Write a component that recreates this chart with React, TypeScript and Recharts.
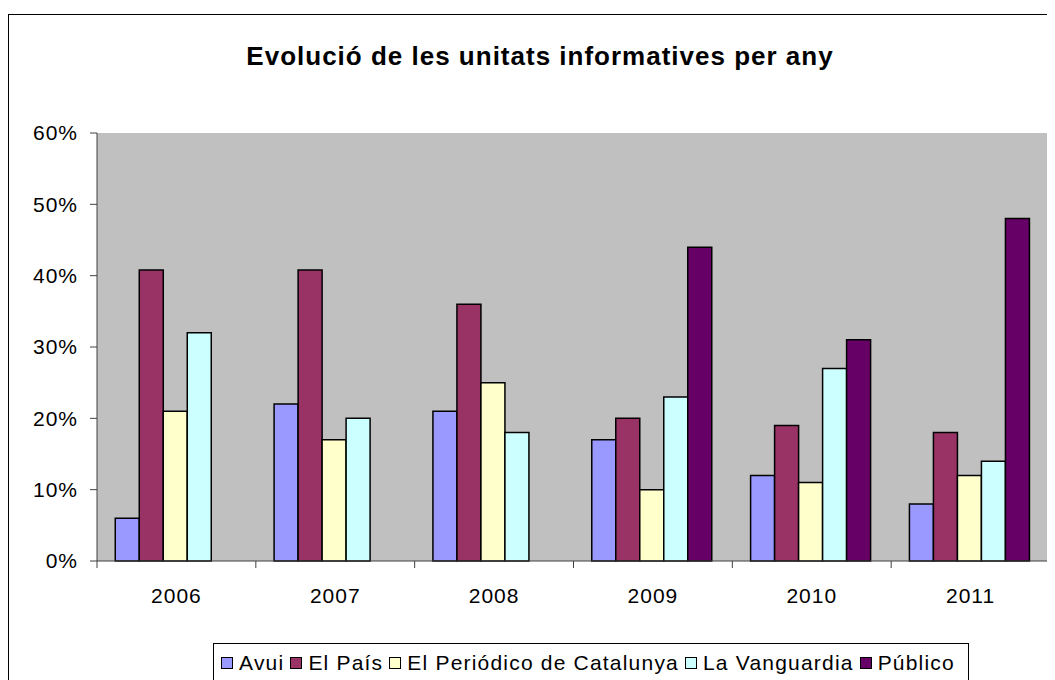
import { BarChart, Bar, XAxis, YAxis, CartesianGrid, Legend } from "recharts";

const years = ["2006", "2007", "2008", "2009", "2010", "2011"];
const avui = [6, 22, 21, 17, 12, 8];
const elPais = [40.8, 40.8, 36, 20, 19, 18];
const elPeriodico = [21, 17, 25, 10, 11, 12];
const laVanguardia = [32, 20, 18, 23, 27, 14];
const publico = [null, null, null, 44, 31, 48];
const yTicks = [0, 10, 20, 30, 40, 50, 60];

const series = [
  { key: "avui", name: "Avui", color: "#9999FF", values: avui },
  { key: "elPais", name: "El País", color: "#993366", values: elPais },
  { key: "elPeriodico", name: "El Periódico de Catalunya", color: "#FFFFCC", values: elPeriodico },
  { key: "laVanguardia", name: "La Vanguardia", color: "#CCFFFF", values: laVanguardia },
  { key: "publico", name: "Público", color: "#660066", values: publico },
];

const data = years.map((year, i) => {
  const row: Record<string, string | number | null> = { year };
  series.forEach((s) => (row[s.key] = s.values[i]));
  return row;
});

const FONT = "Arial, 'Liberation Sans', sans-serif";

// category ticks sit between groups, like the spreadsheet original
function YearTick(props: any) {
  const { x, y, payload, index, width, visibleTicksCount } = props;
  const band = width / visibleTicksCount;
  const left = x - band / 2;
  return (
    <g>
      <line x1={left} y1={y - 8} x2={left} y2={y - 1} stroke="#404040" />
      {index === visibleTicksCount - 1 && <line x1={left + band} y1={y - 8} x2={left + band} y2={y - 1} stroke="#404040" />}
      <text x={x} y={y + 34} textAnchor="middle" fontSize={21} letterSpacing={1} fontFamily={FONT} fill="#000">
        {payload.value}
      </text>
    </g>
  );
}

function LegendBox() {
  return (
    <div style={{ display: "flex", alignItems: "center", justifyContent: "center", height: "100%", fontFamily: FONT, fontSize: 21, letterSpacing: 1.2 }}>
      {series.map((s) => (
        <span key={s.key} style={{ display: "inline-flex", alignItems: "center", marginRight: 6 }}>
          <span style={{ width: 10, height: 10, background: s.color, border: "1px solid #000", marginRight: 6 }} />
          {s.name}
        </span>
      ))}
    </div>
  );
}

export default function App() {
  return (
    <div style={{ position: "relative", width: 1047, height: 672, overflow: "hidden", background: "#fff" }}>
      <div style={{ position: "absolute", left: 0, top: 6, width: 1100, height: 720, borderTop: "1.5px solid #000", borderLeft: "1.5px solid #000" }} />
      <div style={{ position: "absolute", left: 0, top: 33, width: 1064, textAlign: "center", fontFamily: FONT, fontWeight: "bold", fontSize: 26, letterSpacing: 1 }}>
        Evolució de les unitats informatives per any
      </div>
      <BarChart
        width={1047}
        height={672}
        data={data}
        margin={{ top: 125, right: 5, left: 0, bottom: 69 }}
        barCategoryGap="11.5%"
        barGap={0}
        style={{ position: "absolute", left: 0, top: 0 }}
      >
        <CartesianGrid fill="#C0C0C0" horizontal={false} vertical={false} />
        <XAxis dataKey="year" height={50} tick={<YearTick />} tickLine={false} axisLine={{ stroke: "#404040" }} interval={0} />
        <XAxis xAxisId="t" dataKey="year" orientation="top" height={0} tick={false} tickLine={false} axisLine={{ stroke: "#808080" }} />
        <YAxis
          width={89}
          domain={[0, 60]}
          ticks={yTicks}
          tickFormatter={(v) => `${v}%`}
          tickSize={7}
          tickMargin={12}
          tickLine={{ stroke: "#404040" }}
          axisLine={{ stroke: "#404040" }}
          tick={{ fontSize: 21, fill: "#000", fontFamily: FONT, letterSpacing: 1 }}
        />
        <YAxis yAxisId="r" orientation="right" width={0} domain={[0, 60]} tick={false} tickLine={false} axisLine={{ stroke: "#808080" }} />
        <Legend
          layout="horizontal"
          verticalAlign="middle"
          align="center"
          content={<LegendBox />}
          wrapperStyle={{ left: 205, top: 635, width: 756, height: 40, border: "1px solid #000", background: "#fff", boxSizing: "border-box" }}
        />
        {series.map((s) => (
          <Bar key={s.key} dataKey={s.key} name={s.name} fill={s.color} stroke="#000" strokeWidth={1.5} isAnimationActive={false} />
        ))}
      </BarChart>
    </div>
  );
}
